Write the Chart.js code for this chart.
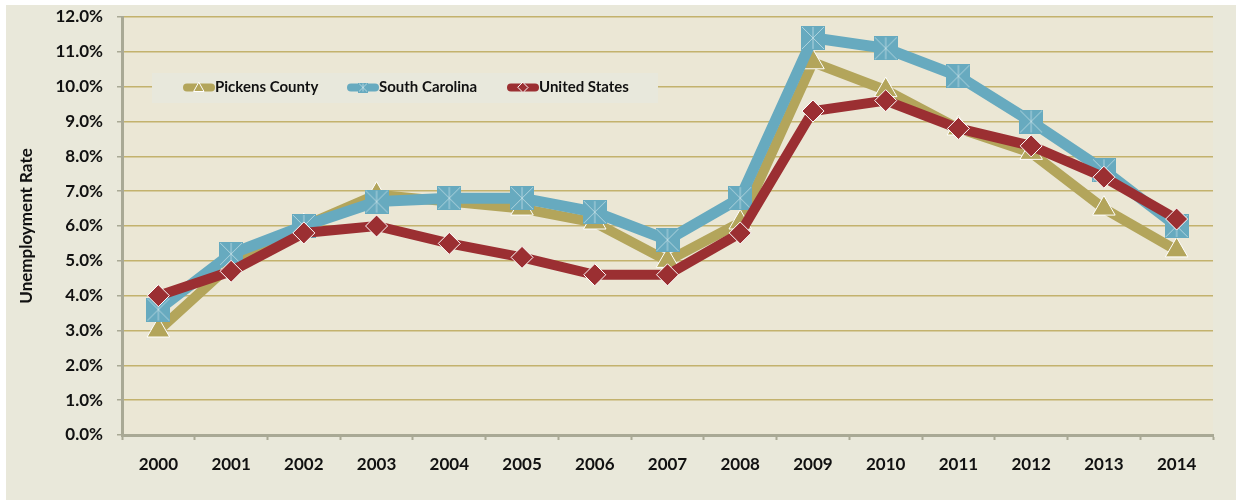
<!DOCTYPE html>
<html>
<head>
<meta charset="utf-8">
<script src="https://cdn.jsdelivr.net/npm/chart.js@4"></script>
<style>
  html, body { margin: 0; padding: 0; background: #ffffff; }
  #wrap { width: 1236px; height: 500px; position: relative; }
</style>
</head>
<body>
<div id="wrap"><canvas id="chart" width="1236" height="500"></canvas></div>
<script>
const years = ['2000', '2001', '2002', '2003', '2004', '2005', '2006', '2007', '2008', '2009', '2010', '2011', '2012', '2013', '2014'];
const pickens = [3.0, 4.9, 6.0, 6.9, 6.7, 6.5, 6.1, 5.0, 6.1, 10.7, 9.9, 8.8, 8.1, 6.5, 5.3];
const southCarolina = [3.6, 5.2, 6.0, 6.7, 6.8, 6.8, 6.4, 5.6, 6.8, 11.4, 11.1, 10.3, 9.0, 7.6, 6.0];
const unitedStates = [4.0, 4.7, 5.8, 6.0, 5.5, 5.1, 4.6, 4.6, 5.8, 9.3, 9.6, 8.8, 8.3, 7.4, 6.2];
const seriesNames = ['Pickens County', 'South Carolina', 'United States'];

const GOLD = '#B3A55B';
const TEAL = '#67AABF';
const RED = '#9B2F32';
const FONT = 'Lato, "Open Sans", sans-serif';

// square marker with a faint asterisk, like the SC series
function makeSquareMarker(size) {
    const c = document.createElement('canvas');
    c.width = size;
    c.height = size;
    const g = c.getContext('2d');
    g.fillStyle = TEAL;
    g.fillRect(0, 0, size, size);
    g.strokeStyle = 'rgba(200,225,232,0.75)';
    g.lineWidth = 1;
    g.beginPath();
    g.moveTo(1, 1); g.lineTo(size - 1, size - 1);
    g.moveTo(size - 1, 1); g.lineTo(1, size - 1);
    g.moveTo(size / 2, 1); g.lineTo(size / 2, size - 1);
    g.stroke();
    return c;
}
const squareBig = makeSquareMarker(24);
const squareSmall = makeSquareMarker(10);

const background = {
    id: 'background',
    beforeDraw(chart) {
        const { ctx, chartArea } = chart;
        ctx.save();
        ctx.fillStyle = '#E9E8DA';
        ctx.fillRect(6, 5, chart.width - 6, chart.height - 5);
        ctx.fillStyle = '#EBE7D5';
        ctx.fillRect(chartArea.left, chartArea.top, chartArea.right - chartArea.left, chartArea.bottom - chartArea.top);
        ctx.restore();
    }
};

const legendBox = {
    id: 'legendBox',
    afterDraw(chart) {
        const ctx = chart.ctx;
        ctx.save();
        ctx.fillStyle = '#E8E8DC';
        ctx.fillRect(152, 73, 506, 30);
        const items = [
            { x: 183, color: GOLD, marker: 'triangle' },
            { x: 347, color: TEAL, marker: 'square' },
            { x: 507, color: RED, marker: 'diamond' }
        ];
        const y = 87.5;
        items.forEach((it, i) => {
            ctx.strokeStyle = it.color;
            ctx.lineWidth = 8;
            ctx.lineCap = 'round';
            ctx.beginPath();
            ctx.moveTo(it.x + 4, y);
            ctx.lineTo(it.x + 28, y);
            ctx.stroke();
            const cx = it.x + 16;
            ctx.lineWidth = 1;
            ctx.strokeStyle = '#ffffff';
            ctx.fillStyle = it.color;
            if (it.marker === 'triangle') {
                ctx.beginPath();
                ctx.moveTo(cx, y - 5);
                ctx.lineTo(cx + 5, y + 4);
                ctx.lineTo(cx - 5, y + 4);
                ctx.closePath();
                ctx.fill();
                ctx.stroke();
            } else if (it.marker === 'square') {
                ctx.drawImage(squareSmall, cx - 5, y - 5);
            } else {
                ctx.beginPath();
                ctx.moveTo(cx, y - 5);
                ctx.lineTo(cx + 5, y);
                ctx.lineTo(cx, y + 5);
                ctx.lineTo(cx - 5, y);
                ctx.closePath();
                ctx.fill();
                ctx.stroke();
            }
            ctx.fillStyle = '#111111';
            ctx.font = 'bold 15px ' + FONT;
            ctx.textBaseline = 'middle';
            ctx.fillText(seriesNames[i], it.x + 32, y);
        });
        ctx.restore();
    }
};

const ctx = document.getElementById('chart').getContext('2d');
new Chart(ctx, {
    type: 'line',
    data: {
        labels: years,
        datasets: [
            {
                label: seriesNames[0], data: pickens, order: 2,
                borderColor: GOLD, backgroundColor: GOLD, borderWidth: 10,
                pointStyle: 'triangle', pointRadius: 13, pointBackgroundColor: GOLD,
                pointBorderColor: '#ffffff', pointBorderWidth: 1
            },
            {
                label: seriesNames[1], data: southCarolina, order: 1,
                borderColor: TEAL, backgroundColor: TEAL, borderWidth: 11,
                pointStyle: squareBig, pointRadius: 12
            },
            {
                label: seriesNames[2], data: unitedStates, order: 0,
                borderColor: RED, backgroundColor: RED, borderWidth: 10,
                pointStyle: 'rectRot', pointRadius: 11, pointBackgroundColor: RED,
                pointBorderColor: '#ffffff', pointBorderWidth: 1
            }
        ]
    },
    options: {
        responsive: false,
        animation: false,
        layout: { autoPadding: false, padding: { top: 17, right: 23, left: 0, bottom: 0 } },
        plugins: {
            legend: { display: false },
            tooltip: { enabled: false }
        },
        scales: {
            x: {
                offset: true,
                grid: { display: true, drawOnChartArea: false, offset: true, tickLength: 5, tickColor: '#A9A995', tickWidth: 2 },
                border: { color: '#A9A995', width: 3 },
                ticks: { color: '#111111', font: { family: FONT, size: 17, weight: 'bold' }, padding: 14, maxRotation: 0 },
                afterFit(scale) { scale.height = 65; }
            },
            y: {
                min: 0,
                max: 12,
                grid: { color: '#C3B26D', lineWidth: 1.5, tickLength: 5, tickColor: '#A9A995' },
                border: { color: '#A9A995', width: 3 },
                ticks: {
                    stepSize: 1,
                    color: '#111111',
                    // small lineHeight keeps the top label from pushing the plot down
                    font: { family: FONT, size: 17, weight: 'bold', lineHeight: 0.3 },
                    padding: 14,
                    callback: v => v.toFixed(1) + '%'
                },
                title: {
                    display: true,
                    text: 'Unemployment Rate',
                    color: '#111111',
                    font: { family: FONT, size: 17, weight: 'bold' },
                    padding: { top: 16, bottom: 0 }
                },
                afterFit(scale) { scale.width = 122; }
            }
        }
    },
    plugins: [background, legendBox]
});
</script>
</body>
</html>
